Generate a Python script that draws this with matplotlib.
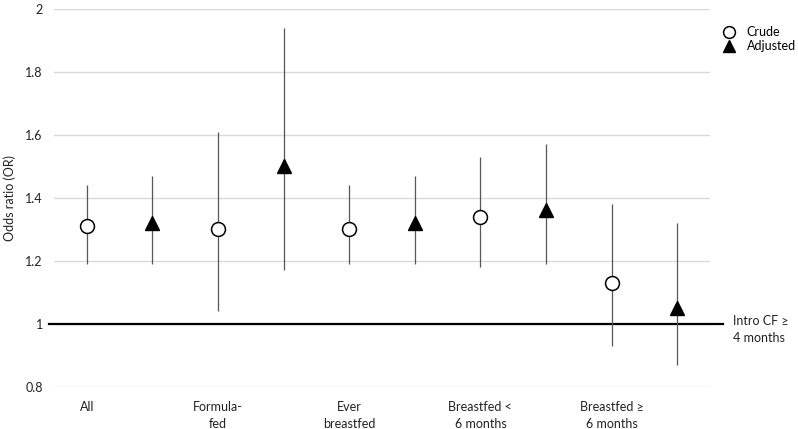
import matplotlib
matplotlib.use("Agg")
import matplotlib.pyplot as plt
import matplotlib.transforms as mtransforms
import numpy as np

plt.rcParams['font.family'] = ['Lato', 'DejaVu Sans']

# groups, labelled under the crude point of each pair
groups = ['All', 'Formula-\nfed', 'Ever\nbreastfed', 'Breastfed <\n6 months', 'Breastfed \u2265\n6 months']

crude_or = [1.31, 1.30, 1.30, 1.34, 1.13]
crude_lo = [1.19, 1.04, 1.19, 1.18, 0.93]
crude_hi = [1.44, 1.61, 1.44, 1.53, 1.38]

adj_or = [1.32, 1.50, 1.32, 1.36, 1.05]
adj_lo = [1.19, 1.17, 1.19, 1.19, 0.87]
adj_hi = [1.47, 1.94, 1.47, 1.57, 1.32]

ref_value = 1.0
ref_label = 'Intro CF \u2265\n4 months'

fig = plt.figure(figsize=(7.98, 4.29), dpi=100)
ax = fig.add_axes([0.0677, 0.0986, 0.822, 0.8804])

n = len(groups)
x_crude = np.arange(n) * 2
x_adj = x_crude + 1

crude_or = np.array(crude_or)
adj_or = np.array(adj_or)
crude_err = [crude_or - np.array(crude_lo), np.array(crude_hi) - crude_or]
adj_err = [adj_or - np.array(adj_lo), np.array(adj_hi) - adj_or]

ax.errorbar(x_crude, crude_or, yerr=crude_err, fmt='none', ecolor='#555555',
            elinewidth=0.9, capsize=0, zorder=3)
ax.errorbar(x_adj, adj_or, yerr=adj_err, fmt='none', ecolor='#555555',
            elinewidth=0.9, capsize=0, zorder=3)
ax.plot(x_crude, crude_or, 'o', ms=10, mfc='white', mec='black', mew=1.1,
        ls='none', label='Crude', zorder=4)
ax.plot(x_adj, adj_or, '^', ms=10.5, mfc='black', mec='black',
        ls='none', label='Adjusted', zorder=4)

# reference line at OR = 1
trans = mtransforms.blended_transform_factory(ax.transAxes, ax.transData)
ax.plot([-0.008, 1.02], [ref_value, ref_value], color='black', lw=1.6,
        transform=trans, clip_on=False, zorder=2)
ax.annotate(ref_label, xy=(1.035, ref_value), xycoords=trans,
            xytext=(0, 6), textcoords='offset points',
            ha='left', va='top', fontsize=9, color='#222222', linespacing=1.5)

ax.set_xlim(-0.5, 2 * n - 0.5)
ax.set_ylim(0.8, 2.0)
ax.set_yticks(np.arange(0.8, 2.01, 0.2))
ax.set_yticklabels(['0.8', '1', '1.2', '1.4', '1.6', '1.8', '2'])
ax.set_xticks(x_crude)
ax.set_xticklabels(groups, fontsize=9, color='#222222', linespacing=1.5)
ax.tick_params(axis='both', length=0, labelsize=9, labelcolor='#222222')
ax.tick_params(axis='x', pad=10)
ax.tick_params(axis='y', pad=8)
ax.grid(axis='y', color='#d9d9d9', lw=1)
ax.set_axisbelow(True)
for s in ax.spines.values():
    s.set_visible(False)

ax.set_ylabel('Odds ratio (OR)', fontsize=9, color='#222222', labelpad=7)

ax.legend(loc='upper left', bbox_to_anchor=(1.008, 0.975), frameon=False,
          fontsize=9, handlelength=1.0, handletextpad=0.9, labelspacing=0.2,
          markerscale=0.85, borderaxespad=0.2)

fig.savefig('out.png', dpi=100)
